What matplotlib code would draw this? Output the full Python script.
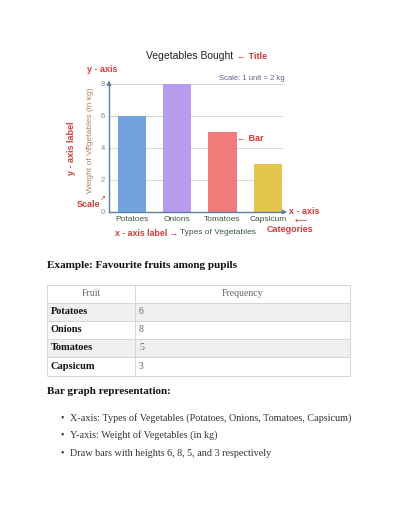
import matplotlib.pyplot as plt
from matplotlib.patches import Rectangle

# data
vegetables = ['Potatoes', 'Onions', 'Tomatoes', 'Capsicum']
weights = [6, 8, 5, 3]
bar_colors = ['#73a3dc', '#b99cf0', '#f17b7b', '#e2c64e']
y_ticks = [0, 2, 4, 6, 8]
bullets = [
    'X-axis: Types of Vegetables (Potatoes, Onions, Tomatoes, Capsicum)',
    'Y-axis: Weight of Vegetables (in kg)',
    'Draw bars with heights 6, 8, 5, and 3 respectively',
]

W, H = 401, 520
RED = '#d33b3b'
GREEN = '#3c5a3c'
AXC = '#5b7fa3'
SERIF = ['Liberation Serif', 'DejaVu Serif']
SANS = ['Liberation Sans', 'DejaVu Sans']


def px(x, y):
    # pixel coords (top-left origin) -> figure fraction
    return x / W, 1 - y / H


fig = plt.figure(figsize=(W / 100, H / 100), dpi=100)
fig.patch.set_facecolor('white')

# --- chart ---
x0, x1, ytop, ybot = 109, 283, 84, 212
ax = fig.add_axes([x0 / W, 1 - ybot / H, (x1 - x0) / W, (ybot - ytop) / H])
ax.bar(range(len(vegetables)), weights, width=0.62, color=bar_colors, zorder=2)
ax.set_xlim(-0.5, 3.33)
ax.set_ylim(0, 8)
ax.set_yticks(y_ticks)
ax.set_yticklabels([str(t) for t in y_ticks], fontsize=5.5, color='#888888', family=SANS)
ax.set_xticks(range(len(vegetables)))
ax.set_xticklabels(vegetables, fontsize=6, color=GREEN, family=SANS)
ax.tick_params(length=0, pad=3)
ax.tick_params(axis='y', pad=3)
ax.grid(axis='y', color='#d8d8d8', linewidth=0.8, zorder=0)
for s in ['top', 'right']:
    ax.spines[s].set_visible(False)
for s in ['left', 'bottom']:
    ax.spines[s].set_color(AXC)
    ax.spines[s].set_linewidth(1.0)
# axis arrows
ax.annotate('', xy=(0, 1.05), xytext=(0, 0.98), xycoords='axes fraction',
            arrowprops=dict(arrowstyle='-|>', color=AXC, lw=1.0, mutation_scale=6),
            annotation_clip=False)
ax.annotate('', xy=(1.04, 0), xytext=(0.99, 0), xycoords='axes fraction',
            arrowprops=dict(arrowstyle='-|>', color=AXC, lw=1.0, mutation_scale=6),
            annotation_clip=False)

ax.set_ylabel('Weight of Vegetables (in kg)', fontsize=6, color='#b0825a', family=SANS)
ax.yaxis.set_label_coords((94 - x0) / (x1 - x0), (ybot - 140) / (ybot - ytop))

# chart title and annotations
fig.text(*px(190, 56), 'Vegetables Bought', fontsize=7.5, ha='center', va='center', family=SANS, color='#222222')
fig.text(*px(237, 56), '\u2190 Title', fontsize=6.5, ha='left', va='center', family=SANS, color=RED, weight='bold')
fig.text(*px(102, 70), 'y - axis', fontsize=6.5, ha='center', va='center', family=SANS, color=RED, weight='bold')
fig.text(*px(285, 79), 'Scale: 1 unit = 2 kg', fontsize=5.5, ha='right', va='center', family=SANS, color='#6a5a9a')
fig.text(*px(72, 148), 'y - axis label', fontsize=6.5, ha='center', va='center', rotation=90,
         family=SANS, color=RED, weight='bold')
fig.text(*px(85, 147), '\u2192', fontsize=5, ha='center', va='center', rotation=-90, family=SANS, color=RED)
fig.text(*px(237, 139), '\u2190 Bar', fontsize=6.5, ha='left', va='center', family=SANS, color=RED, weight='bold')
fig.text(*px(89, 205), 'Scale', fontsize=6.5, ha='center', va='center', family=SANS, color=RED, weight='bold')
fig.text(*px(103, 198), '\u2197', fontsize=5, ha='center', va='center', family=SANS, color=RED)
fig.text(*px(289, 212), 'x - axis', fontsize=6.5, ha='left', va='center', family=SANS, color=RED, weight='bold')
fig.text(*px(301, 221), '\u27f5', fontsize=6, ha='center', va='center', family=SANS, color=RED)
fig.text(*px(290, 229), 'Categories', fontsize=6.5, ha='center', va='center', family=SANS, color=RED, weight='bold')
xl = fig.text(*px(115, 233), 'x - axis label \u2192', fontsize=6.3, ha='left', va='center', family=SANS,
              color=RED, weight='bold')
fig.canvas.draw()
bb = xl.get_window_extent()
fig.text(bb.x1 / fig.bbox.width + 2 / W, 1 - 233 / H, 'Types of Vegetables', fontsize=6, ha='left',
         va='center', family=SANS, color=GREEN)

# --- example heading ---
fig.text(*px(47, 265), 'Example: Favourite fruits among pupils', fontsize=8, ha='left', va='center',
         family=SERIF, weight='bold', color='#111111')

# --- table ---
tx0, tdiv, tx1 = 47, 135, 350
row_tops = [285, 303, 321, 339, 357, 376]
fills = ['white', '#efefef', 'white', '#efefef', 'white']
for i in range(5):
    r0, r1 = row_tops[i], row_tops[i + 1]
    fig.patches.append(Rectangle(px(tx0, r1), (tx1 - tx0) / W, (r1 - r0) / H, transform=fig.transFigure,
                                 facecolor=fills[i], edgecolor='#d6d6d6', lw=0.7))
    fig.add_artist(plt.Line2D([tdiv / W, tdiv / W], [1 - r0 / H, 1 - r1 / H], color='#d6d6d6', lw=0.7))

hy = (row_tops[0] + row_tops[1]) / 2
fig.text(*px((tx0 + tdiv) / 2, hy), 'Fruit', fontsize=7, ha='center', va='center', family=SERIF, color='#666666')
fig.text(*px((tdiv + tx1) / 2, hy), 'Frequency', fontsize=7, ha='center', va='center', family=SERIF, color='#666666')
for i, (name, val) in enumerate(zip(vegetables, weights)):
    cy = (row_tops[i + 1] + row_tops[i + 2]) / 2
    fig.text(*px(51, cy), name, fontsize=7.5, ha='left', va='center', family=SERIF, weight='bold', color='#111111')
    fig.text(*px(139, cy), str(val), fontsize=7, ha='left', va='center', family=SERIF, color='#666666')

# --- bullet list ---
fig.text(*px(47, 392), 'Bar graph representation:', fontsize=8, ha='left', va='center',
         family=SERIF, weight='bold', color='#111111')
for yb, line in zip([418, 435, 453], bullets):
    fig.text(*px(62, yb), '\u2022', fontsize=7, ha='center', va='center', family=SERIF, color='#333333')
    fig.text(*px(70, yb), line, fontsize=7.3, ha='left', va='center', family=SERIF, color='#333333')

fig.savefig('out.png', dpi=100)
